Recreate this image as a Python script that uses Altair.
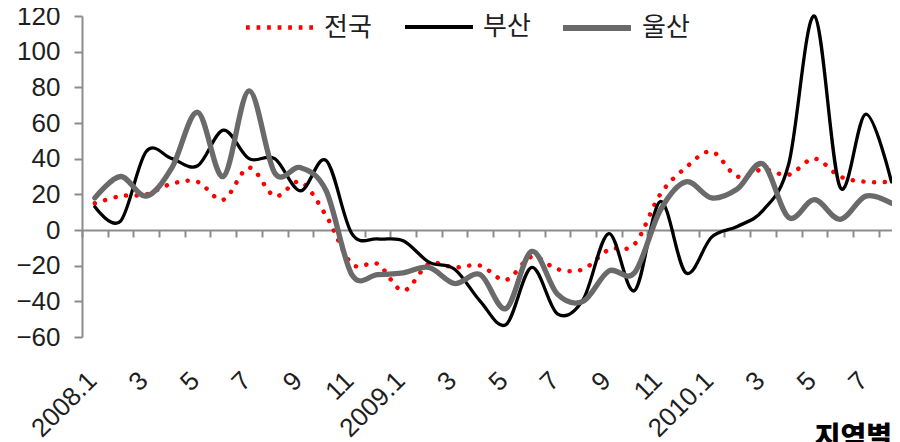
import altair as alt
import pandas as pd

months = ["2008.1", "2008.2", "2008.3", "2008.4", "2008.5", "2008.6", "2008.7", "2008.8",
          "2008.9", "2008.10", "2008.11", "2008.12", "2009.1", "2009.2", "2009.3", "2009.4",
          "2009.5", "2009.6", "2009.7", "2009.8", "2009.9", "2009.10", "2009.11", "2009.12",
          "2010.1", "2010.2", "2010.3", "2010.4", "2010.5", "2010.6", "2010.7", "2010.8"]
tick_labels = ["2008.1", "3", "5", "7", "9", "11", "2009.1", "3", "5", "7", "9", "11",
               "2010.1", "3", "5", "7"]
series_names = ["전국", "부산", "울산"]

national = [15, 19, 20, 26, 27, 17, 35, 19, 27, 8, -19, -19, -34, -19, -21, -20,
            -28, -15, -22, -22, -11, -8, 20, 35, 44, 30, 34, 31, 40, 30, 27, 27]
busan = [13, 5, 44, 40, 36, 56, 40, 40, 22, 39, -2, -5, -6, -18, -22, -40,
         -53, -21, -47, -39, -2, -34, 16, -24, -4, 2, 11, 37, 120, 24, 65, 27]
ulsan = [18, 30, 19, 35, 66, 30, 78, 32, 35, 22, -25, -25, -24, -21, -30, -25,
         -44, -12, -36, -40, -23, -24, 11, 27, 18, 23, 37, 7, 17, 6, 19, 15]

rows = []
for name, vals in zip(series_names, [national, busan, ulsan]):
    for i, v in enumerate(vals):
        rows.append({"idx": i, "month": months[i], "series": name, "value": v})
df = pd.DataFrame(rows)

FONT = "Liberation Sans"
KFONT = "Noto Sans CJK KR"
AXIS_GRAY = "#8c8c8c"
TEXT = "#1e1e1e"

x_scale = alt.Scale(domain=[-0.5, 31.02], nice=False, zero=False)
y_scale = alt.Scale(domain=[-60, 120], nice=False)
label_expr = "[" + ",".join("'%s'" % t for t in tick_labels) + "][round(datum.value/2)]"

# legend symbol for the dotted series: a row of short strokes that reads as dots
dot_path = " ".join("M%.3f,0 L%.3f,0" % (-0.93 + k * 0.31 - 0.055, -0.93 + k * 0.31 + 0.055)
                    for k in range(7))

styles = {
    "전국": dict(color="#ff0000", width=4.5, dash=[0.1, 10.6], legend_x=161,
               symbol=dot_path, symbol_width=4.5),
    "부산": dict(color="#000000", width=3.3, dash=None, legend_x=321,
               symbol="stroke", symbol_width=4),
    "울산": dict(color="#6a6a6a", width=5.3, dash=None, legend_x=478,
               symbol="stroke", symbol_width=6),
}

y_axis = alt.Axis(values=list(range(-60, 121, 20)), labelFont=FONT,
                  labelFontSize=26, labelColor=TEXT, labelPadding=14,
                  labelOverlap=False, tickSize=8, tickColor=AXIS_GRAY,
                  domainColor=AXIS_GRAY, domainWidth=2, tickWidth=2,
                  grid=False, title=None)
x_label_axis = alt.Axis(values=list(range(0, 32, 2)), labelExpr=label_expr,
                        labelAngle=-45, labelFont=FONT, labelFontSize=26,
                        labelColor=TEXT, labelPadding=30, labelOffset=-12,
                        domain=False, ticks=False, grid=False, title=None,
                        labelOverlap=False, labelBound=False, labelFlush=False)

layers = []
for k, name in enumerate(series_names):
    st = styles[name]
    mark_kw = dict(interpolate="cardinal", strokeCap="round", strokeWidth=st["width"])
    if st["dash"]:
        mark_kw["strokeDash"] = st["dash"]
    leg = alt.Legend(title=None, orient="none", legendX=st["legend_x"], legendY=-25,
                     symbolType=st["symbol"], symbolSize=4624,
                     symbolStrokeWidth=st["symbol_width"], labelFontSize=26,
                     labelFont=KFONT, labelColor=TEXT, labelOffset=8, padding=0)
    layer = alt.Chart(df).transform_filter(alt.datum.series == name).mark_line(**mark_kw).encode(
        x=alt.X("idx:Q", scale=x_scale, axis=x_label_axis if k == 0 else None),
        y=alt.Y("value:Q", scale=y_scale, axis=y_axis),
        color=alt.Color("series:N", scale=alt.Scale(domain=[name], range=[st["color"]]),
                        legend=leg),
        order=alt.Order("idx:Q"),
    )
    layers.append(layer)

zero_layer = alt.Chart(df).mark_point(opacity=0).encode(
    x=alt.X("idx:Q", scale=x_scale,
            axis=alt.Axis(values=[i - 0.5 for i in range(33)], labels=False, orient="bottom",
                          domain=True, domainColor=AXIS_GRAY, domainWidth=2,
                          ticks=True, tickColor=AXIS_GRAY, tickWidth=2, tickSize=7,
                          grid=False, title=None, offset=-107)),
    y=alt.Y("value:Q", scale=y_scale, axis=y_axis),
)

chart = alt.layer(*layers, zero_layer).resolve_axis(x="independent").resolve_scale(
    color="independent"
).properties(
    width=810, height=321,
    autosize=alt.AutoSizeParams(type="none"),
    padding={"left": 74, "top": 8, "right": 0, "bottom": 115},
    title=alt.TitleParams("지역별", orient="bottom", anchor="end", frame="group",
                          offset=-17, fontSize=28, font=KFONT, fontWeight=900,
                          color="#000000"),
).configure_view(stroke=None).configure_axisY(labelOverlap=False)

chart.save("out.html", embed_options={"renderer": "svg", "actions": False})
